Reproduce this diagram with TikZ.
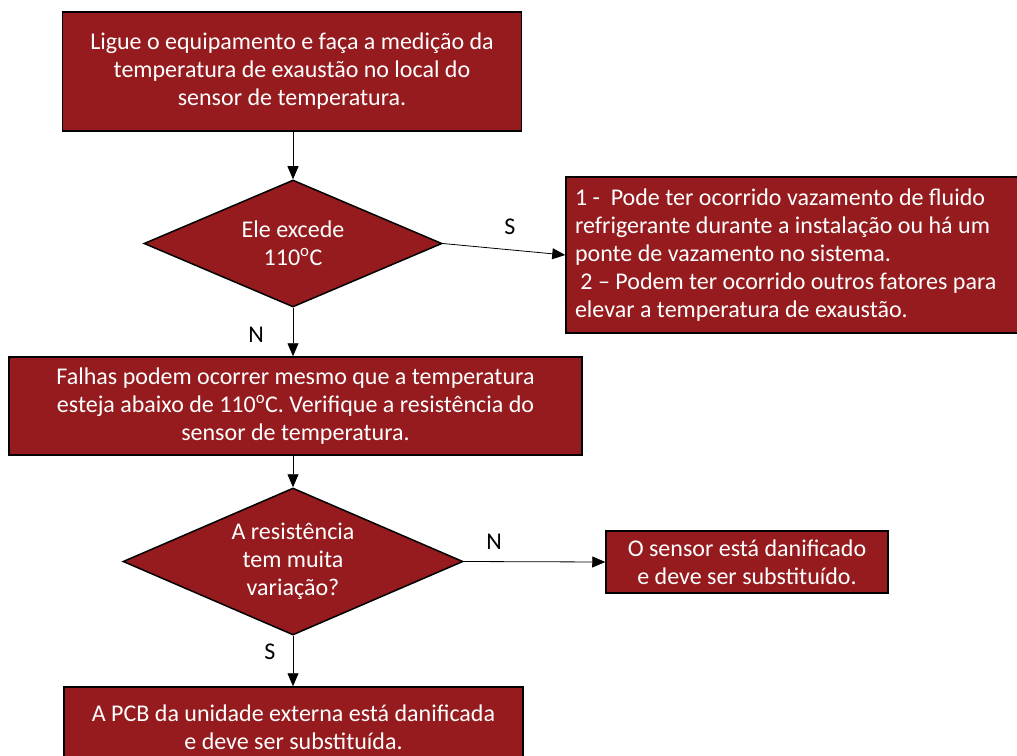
\documentclass[tikz,border=0pt]{standalone}
\usepackage{fontspec}
\setmainfont{Carlito}
\usetikzlibrary{shapes.geometric,arrows.meta}
\definecolor{vinho}{RGB}{149,27,30}
\begin{document}
\begin{tikzpicture}[x=1pt,y=-1pt,
	texto/.style={font=\fontsize{24}{28}\selectfont},
	caixa/.style={texto,draw=black,line width=1.5pt,fill=vinho,text=white,align=center,inner sep=0pt},
	losango/.style={caixa,diamond,aspect=2.3},
	seta/.style={-{Triangle[length=13pt,width=11pt]},line width=0.8pt}]
	\useasboundingbox (0,0) rectangle (1017,755);
	\clip (0,0) rectangle (1017,755);
	\node[caixa,minimum width=459pt,minimum height=119pt] (ligue) at (292,71.5)
		{Ligue o equipamento e faça a medição da\\ temperatura de exaustão no local do\\ sensor de temperatura.};
	\node[losango,minimum width=298pt,minimum height=127pt] (excede) at (293,243.5)
		{Ele excede\\ 110\textsuperscript{o}C};
	\node[caixa,align=flush left,text width=450pt,inner xsep=9pt,minimum height=156pt] (causas) at (800,255)
		{1 -\ \ Pode ter ocorrido vazamento de fluido\\ refrigerante durante a instalação ou há um\\ ponte de vazamento no sistema.\\ \ 2 – Podem ter ocorrido outros fatores para\\ elevar a temperatura de exaustão.};
	\node[caixa,minimum width=573pt,minimum height=98pt] (falhas) at (295.5,406)
		{Falhas podem ocorrer mesmo que a temperatura\\ esteja abaixo de 110\textsuperscript{o}C. Verifique a resistência do\\ sensor de temperatura.};
	\node[losango,minimum width=340pt,minimum height=147pt] (variacao) at (293,561.5)
		{A resistência\\ tem muita\\ variação?};
	\node[caixa,minimum width=282pt,minimum height=62pt] (sensor) at (747,562)
		{O sensor está danificado\\ e deve ser substituído.};
	\node[caixa,minimum width=459pt,minimum height=81pt] (pcb) at (293.5,727.5)
		{A PCB da unidade externa está danificada\\ e deve ser substituída.};
	\draw [seta] (ligue.south -| excede) -- (excede);
	\draw [seta] (excede) -- (excede |- falhas.north);
	\draw [seta] (excede.east) -- (causas.west);
	\draw [seta] (variacao |- falhas.south) -- (variacao);
	\draw [seta] (variacao.east) -- (sensor.west);
	\draw [seta] (variacao) -- (variacao |- pcb.north);
	\path [texto]
	(510,227) node (s1) {S}
	(256,335) node (n1) {N}
	(494,542) node (n2) {N}
	(270,652) node (s2) {S}
	;
\end{tikzpicture}
\end{document}
